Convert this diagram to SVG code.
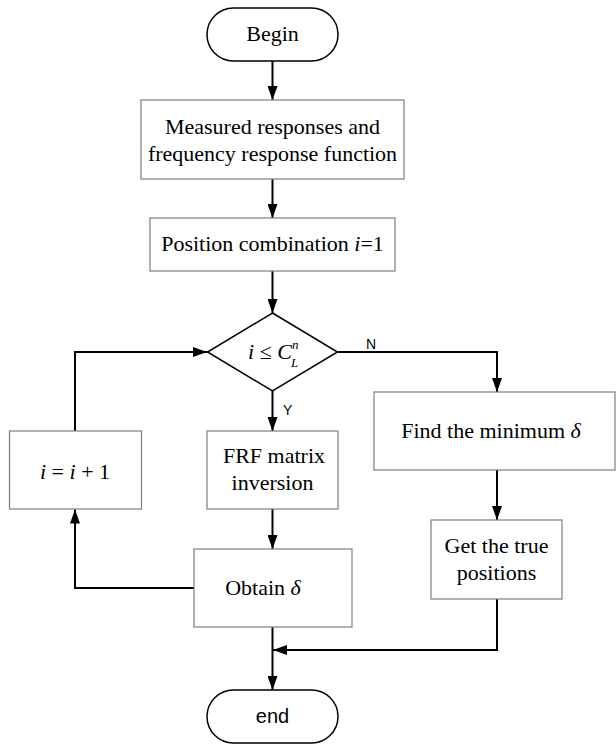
<svg xmlns="http://www.w3.org/2000/svg" width="616" height="745" viewBox="0 0 616 745">
<defs>
<marker id="ah" markerUnits="userSpaceOnUse" markerWidth="14" markerHeight="10" refX="14" refY="5" orient="auto">
<path d="M0,0 L14,5 L0,10 z" fill="#000"/>
</marker>
</defs>
<style>
.box{fill:#fff;stroke:#7f7f7f;stroke-width:1.2}
.term{fill:#fff;stroke:#000;stroke-width:1.5}
.t{font-family:"Liberation Serif","Times New Roman",serif;font-size:22px;fill:#000;text-anchor:middle}
.s{font-family:"Liberation Sans",Arial,sans-serif;font-size:20px;fill:#000;text-anchor:middle}
.lab{font-family:"Liberation Sans",Arial,sans-serif;font-size:14px;fill:#000}
.c{fill:none;stroke:#000;stroke-width:2;marker-end:url(#ah)}
.it{font-style:italic}
</style>
<rect width="616" height="745" fill="#fff"/>
<g id="connectors">
<path class="c" d="M272.5,61 V100"/>
<path class="c" d="M272.5,179 V218"/>
<path class="c" d="M272.5,271 V313"/>
<path class="c" d="M272.5,391 V431"/>
<path class="c" d="M338,352 H497 V392"/>
<path class="c" d="M272.5,509 V549"/>
<path class="c" d="M194,588 H75 V509.5"/>
<path class="c" d="M75,431 V352 H207"/>
<path class="c" d="M497,470 V520"/>
<path class="c" d="M497,599 V650 H273"/>
<path class="c" d="M272.5,627 V690"/>
<text class="lab" x="366" y="349">N</text>
<text class="lab" x="283" y="415">Y</text>
</g>
<g id="begin">
<rect class="term" x="207" y="8" width="131" height="53" rx="26.5"/>
<text class="t" x="272.5" y="41">Begin</text>
</g>
<g id="measured">
<rect class="box" x="141" y="100" width="263" height="79"/>
<text class="t" x="272.5" y="134">Measured responses and</text>
<text class="t" x="272.5" y="161">frequency response function</text>
</g>
<g id="position">
<rect class="box" x="150" y="218" width="245" height="53"/>
<text class="t" x="272.5" y="251">Position combination <tspan class="it">i</tspan>=1</text>
</g>
<g id="decision">
<polygon class="term" points="272.5,313 337.5,352 272.5,391 207.5,352"/>
<text class="t" x="248" y="359" style="text-anchor:start"><tspan class="it">i</tspan> ≤ <tspan class="it">C</tspan></text>
<text class="t" x="292" y="349" style="text-anchor:start;font-size:13px"><tspan class="it">n</tspan></text>
<text class="t" x="291" y="367" style="text-anchor:start;font-size:13px"><tspan class="it">L</tspan></text>
</g>
<g id="inc">
<rect class="box" x="9.5" y="431" width="132" height="78"/>
<text class="t" x="75" y="479"><tspan class="it">i</tspan> = <tspan class="it">i</tspan> + 1</text>
</g>
<g id="frf">
<rect class="box" x="207" y="431" width="131" height="78"/>
<text class="t" x="274" y="463">FRF matrix</text>
<text class="t" x="272.5" y="490">inversion</text>
</g>
<g id="obtain">
<rect class="box" x="194" y="549" width="158" height="78"/>
<text class="t" x="263" y="595">Obtain <tspan class="it">δ</tspan></text>
</g>
<g id="find">
<rect class="box" x="374" y="392" width="241" height="78"/>
<text class="t" x="491" y="438">Find the minimum <tspan class="it">δ</tspan></text>
</g>
<g id="get">
<rect class="box" x="431" y="520" width="131" height="79"/>
<text class="t" x="496.5" y="553">Get the true</text>
<text class="t" x="496.5" y="580">positions</text>
</g>
<g id="end">
<rect class="term" x="207" y="690" width="131" height="53" rx="26.5"/>
<text class="s" x="272.5" y="723">end</text>
</g>
</svg>
